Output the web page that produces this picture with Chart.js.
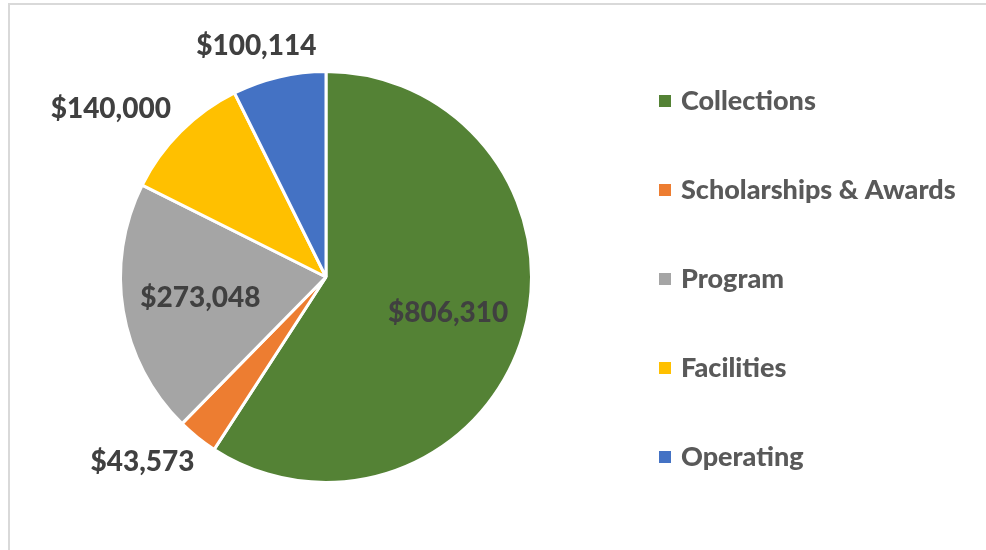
<!DOCTYPE html>
<html>
<head>
<meta charset="utf-8">
<script src="https://cdn.jsdelivr.net/npm/chart.js@4"></script>
<style>
  html, body { margin: 0; padding: 0; background: #fff; }
  #wrap { position: relative; width: 986px; height: 550px; overflow: hidden; }
  #frame { position: absolute; left: 8px; top: 3px; width: 990px; height: 560px;
           border-top: 2px solid #d9d9d9; border-left: 2px solid #d9d9d9; box-sizing: border-box; }
  #chartBox { position: absolute; left: 0; top: 0; width: 986px; height: 550px; }
</style>
</head>
<body>
<div id="wrap">
  <div id="frame"></div>
  <div id="chartBox"><canvas id="pieChart"></canvas></div>
</div>
<script>
// Budget categories and amounts
const categories = ['Collections', 'Scholarships & Awards', 'Program', 'Facilities', 'Operating'];
const amounts = [806310, 43573, 273048, 140000, 100114];
const sliceColors = ['#548235', '#ED7D31', '#A5A5A5', '#FFC000', '#4472C4'];

const fontFamily = 'Lato, "Open Sans", sans-serif';

function money(v) {
    return '$' + new Intl.NumberFormat('en-US').format(v);
}

// Draw value labels, inside for big slices and outside for small ones
const valueLabels = {
    id: 'valueLabels',
    afterDatasetsDraw(chart) {
        const ctx = chart.ctx;
        const meta = chart.getDatasetMeta(0);
        const total = amounts.reduce((a, b) => a + b, 0);
        ctx.save();
        ctx.font = '900 28px ' + fontFamily;
        ctx.fillStyle = '#404040';
        ctx.textAlign = 'center';
        ctx.textBaseline = 'middle';
        meta.data.forEach((arc, i) => {
            const p = arc.getProps(['x', 'y', 'startAngle', 'endAngle', 'outerRadius'], true);
            const mid = (p.startAngle + p.endAngle) / 2;
            const dx = Math.cos(mid), dy = Math.sin(mid);
            const text = money(amounts[i]);
            let x, y;
            if (amounts[i] / total > 0.15) {
                x = p.x + dx * p.outerRadius * 0.62;
                y = p.y + dy * p.outerRadius * 0.62;
            } else {
                const w = ctx.measureText(text).width;
                const r = p.outerRadius + 15;
                x = p.x + dx * r + dx * w * 0.7;
                y = p.y + dy * r + dy * 17;
            }
            ctx.fillText(text, x, y);
        });
        ctx.restore();
    }
};

// Legend on the right, one row per category
const sideLegend = {
    id: 'sideLegend',
    afterDraw(chart) {
        const ctx = chart.ctx;
        const boxX = 659, textX = 681, step = 89;
        const startY = chart.height / 2 + 4 - step * (categories.length - 1) / 2;
        ctx.save();
        ctx.font = '900 27px ' + fontFamily;
        ctx.textBaseline = 'middle';
        ctx.textAlign = 'left';
        categories.forEach((name, i) => {
            const y = startY + i * step;
            ctx.fillStyle = sliceColors[i];
            ctx.fillRect(boxX, y - 6, 12, 12);
            ctx.fillStyle = '#595959';
            ctx.fillText(name, textX, y);
        });
        ctx.restore();
    }
};

const pieCtx = document.getElementById('pieChart');
new Chart(pieCtx, {
    type: 'pie',
    data: {
        labels: categories,
        datasets: [{
            data: amounts,
            backgroundColor: sliceColors,
            borderColor: '#ffffff',
            borderWidth: 3
        }]
    },
    options: {
        responsive: true,
        maintainAspectRatio: false,
        animation: false,
        layout: {
            padding: { top: 70, bottom: 66, left: 0, right: 334 }
        },
        plugins: {
            legend: { display: false },
            tooltip: { enabled: false }
        }
    },
    plugins: [valueLabels, sideLegend]
});
</script>
</body>
</html>
